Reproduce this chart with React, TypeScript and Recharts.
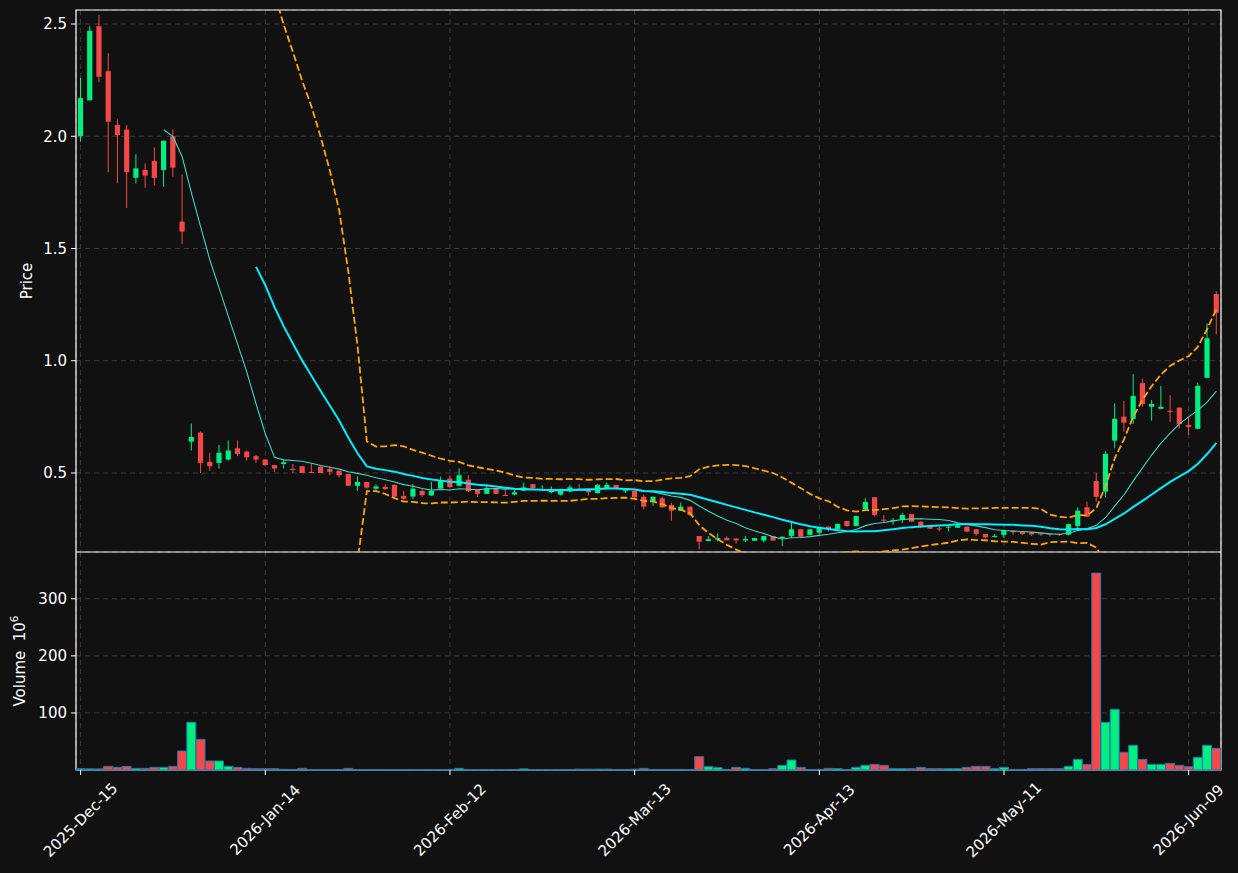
import React from "react";
import {
  ComposedChart,
  Bar,
  Line,
  XAxis,
  YAxis,
  CartesianGrid,
  ReferenceArea,
  Cell,
} from "recharts";

// tick labels every 20 sessions
const tickLabels = [
  "2025-Dec-15",
  "2026-Jan-14",
  "2026-Feb-12",
  "2026-Mar-13",
  "2026-Apr-13",
  "2026-May-11",
  "2026-Jun-09",
];

const opens = [
  2.0, 2.16, 2.49, 2.29, 2.05, 2.03, 1.815, 1.85, 1.89, 1.85,
  2.0, 1.62, 0.64, 0.68, 0.55, 0.545, 0.56, 0.61, 0.595, 0.575,
  0.56, 0.535, 0.54, 0.518, 0.53, 0.505, 0.528, 0.518, 0.51, 0.495,
  0.443, 0.46, 0.43, 0.438, 0.447, 0.398, 0.395, 0.42, 0.4, 0.43,
  0.475, 0.443, 0.47, 0.427, 0.407, 0.432, 0.402, 0.404, 0.421, 0.45,
  0.423, 0.414, 0.403, 0.417, 0.428, 0.425, 0.41, 0.432, 0.447, 0.42,
  0.42, 0.394, 0.372, 0.387, 0.357, 0.332, 0.35, 0.219, 0.197, 0.203,
  0.21, 0.208, 0.199, 0.198, 0.199, 0.219, 0.21, 0.22, 0.249, 0.224,
  0.234, 0.261, 0.25, 0.286, 0.264, 0.338, 0.392, 0.292, 0.287, 0.291,
  0.317, 0.283, 0.264, 0.253, 0.258, 0.256, 0.261, 0.249, 0.228, 0.215,
  0.224, 0.242, 0.237, 0.234, 0.23, 0.23, 0.228, 0.225, 0.264, 0.347,
  0.464, 0.417, 0.644, 0.751, 0.741, 0.9, 0.795, 0.786, 0.777, 0.791,
  0.714, 0.697, 0.924, 1.297,
];

const highs = [
  2.26, 2.49, 2.54, 2.37, 2.075, 2.05, 1.92, 1.88, 1.95, 1.98,
  2.03, 1.83, 0.72, 0.685, 0.59, 0.625, 0.645, 0.645, 0.6, 0.58,
  0.56, 0.535, 0.56, 0.54, 0.53, 0.54, 0.53, 0.53, 0.51, 0.495,
  0.485, 0.46, 0.45, 0.45, 0.45, 0.42, 0.45, 0.43, 0.46, 0.484,
  0.49, 0.52, 0.49, 0.427, 0.45, 0.435, 0.433, 0.428, 0.457, 0.452,
  0.446, 0.44, 0.43, 0.446, 0.45, 0.428, 0.45, 0.458, 0.447, 0.433,
  0.42, 0.404, 0.395, 0.394, 0.367, 0.368, 0.35, 0.219, 0.219, 0.23,
  0.218, 0.21, 0.22, 0.21, 0.22, 0.22, 0.218, 0.279, 0.25, 0.25,
  0.26, 0.262, 0.275, 0.286, 0.31, 0.387, 0.392, 0.313, 0.3, 0.32,
  0.318, 0.285, 0.265, 0.26, 0.268, 0.27, 0.261, 0.25, 0.228, 0.228,
  0.248, 0.246, 0.242, 0.236, 0.232, 0.23, 0.23, 0.274, 0.347, 0.372,
  0.501, 0.597, 0.81, 0.821, 0.94, 0.92, 0.825, 0.888, 0.847, 0.791,
  0.75, 0.903, 1.167, 1.31,
];

const lows = [
  1.976, 2.16, 2.24, 1.84, 1.79, 1.68, 1.79, 1.77, 1.78, 1.775,
  1.82, 1.52, 0.6, 0.5, 0.51, 0.52, 0.555, 0.575, 0.555, 0.545,
  0.53, 0.505, 0.52, 0.5, 0.5, 0.5, 0.5, 0.49, 0.48, 0.443,
  0.42, 0.43, 0.42, 0.425, 0.394, 0.383, 0.383, 0.392, 0.398, 0.43,
  0.435, 0.44, 0.415, 0.393, 0.405, 0.405, 0.398, 0.4, 0.42, 0.43,
  0.42, 0.41, 0.4, 0.415, 0.42, 0.4, 0.41, 0.43, 0.428, 0.411,
  0.39, 0.338, 0.353, 0.345, 0.288, 0.332, 0.31, 0.16, 0.195, 0.195,
  0.2, 0.185, 0.192, 0.198, 0.19, 0.198, 0.175, 0.21, 0.21, 0.222,
  0.225, 0.24, 0.248, 0.26, 0.262, 0.332, 0.306, 0.279, 0.27, 0.277,
  0.283, 0.255, 0.25, 0.24, 0.24, 0.255, 0.237, 0.22, 0.21, 0.213,
  0.21, 0.225, 0.225, 0.22, 0.22, 0.218, 0.22, 0.222, 0.255, 0.305,
  0.372, 0.392, 0.61, 0.684, 0.718, 0.795, 0.733, 0.786, 0.728, 0.7,
  0.669, 0.695, 0.924, 1.118,
];

const closes = [
  2.17, 2.47, 2.265, 2.065, 2.005, 1.84, 1.857, 1.825, 1.815, 1.98,
  1.86, 1.575, 0.66, 0.545, 0.53, 0.59, 0.6, 0.585, 0.57, 0.56,
  0.535, 0.52, 0.548, 0.515, 0.5, 0.5, 0.5, 0.505, 0.49, 0.443,
  0.46, 0.435, 0.44, 0.428, 0.395, 0.385, 0.43, 0.402, 0.42, 0.468,
  0.437, 0.49, 0.418, 0.407, 0.433, 0.407, 0.4, 0.414, 0.436, 0.432,
  0.428, 0.425, 0.425, 0.436, 0.425, 0.414, 0.447, 0.447, 0.432, 0.423,
  0.392, 0.35, 0.394, 0.347, 0.332, 0.35, 0.313, 0.194, 0.205, 0.21,
  0.2, 0.2, 0.205, 0.21, 0.219, 0.199, 0.216, 0.249, 0.216, 0.249,
  0.258, 0.25, 0.273, 0.264, 0.308, 0.371, 0.313, 0.29, 0.29, 0.313,
  0.283, 0.258, 0.252, 0.251, 0.261, 0.267, 0.239, 0.229, 0.213, 0.22,
  0.246, 0.236, 0.228, 0.226, 0.226, 0.226, 0.224, 0.272, 0.332, 0.305,
  0.394, 0.585, 0.741, 0.724, 0.843, 0.807, 0.807, 0.795, 0.772, 0.718,
  0.705, 0.888, 1.1, 1.214,
];

// volume in millions
const volumes = [
  2.3, 2.0, 2.0, 6.4, 4.7, 6.4, 2.9, 2.9, 4.7, 4.7,
  6.4, 33.3, 83.6, 53.8, 15.8, 15.8, 6.4, 4.7, 2.9, 2.3,
  2.3, 2.3, 1.2, 0.8, 2.9, 0.8, 0.6, 0.6, 0.6, 2.9,
  0.6, 0.5, 0.5, 0.5, 0.5, 0.5, 0.5, 0.5, 0.5, 0.5,
  0.5, 2.9, 0.6, 0.6, 0.6, 0.6, 0.6, 0.6, 2.0, 0.6,
  0.6, 0.6, 0.6, 0.6, 1.5, 1.5, 1.5, 1.5, 0.6, 0.6,
  1.5, 2.9, 1.0, 1.0, 1.0, 1.0, 1.0, 23.4, 5.8, 4.1,
  0.6, 4.7, 2.9, 0.6, 0.6, 2.3, 8.2, 17.5, 4.7, 0.6,
  0.6, 2.9, 2.3, 0.6, 4.7, 8.2, 9.9, 8.2, 2.3, 2.3,
  2.3, 4.7, 2.3, 2.3, 2.3, 2.3, 4.7, 6.4, 6.4, 2.3,
  4.7, 1.0, 1.0, 2.3, 2.3, 2.3, 2.3, 6.4, 18.7, 9.9,
  345, 83.6, 106.4, 31, 43.3, 18.7, 9.9, 9.9, 11.7, 8.2,
  5.8, 22.2, 43.3, 38,
];

const UP = "#00f080";
const DOWN = "#f44848";
const BG = "#111111";
const TEXT = "#ffffff";
const FRAME = "#ffffff";
const FONT = "DejaVu Sans, sans-serif";

const PRICE_DOMAIN = [0.148, 2.5625];
const VOL_DOMAIN = [0, 382];

const rollMean = (arr: number[], n: number) =>
  arr.map((_, i) => {
    if (i < n - 1) return null;
    let s = 0;
    for (let k = i - n + 1; k <= i; k++) s += arr[k];
    return s / n;
  });

const rollStd = (arr: number[], n: number) =>
  arr.map((_, i) => {
    if (i < n - 1) return null;
    let s = 0;
    for (let k = i - n + 1; k <= i; k++) s += arr[k];
    const m = s / n;
    let q = 0;
    for (let k = i - n + 1; k <= i; k++) q += (arr[k] - m) * (arr[k] - m);
    return Math.sqrt(q / (n - 1));
  });

const ma10 = rollMean(closes, 10);
const ma20 = rollMean(closes, 20);
const sd20 = rollStd(closes, 20);

const data = closes.map((c, i) => ({
  i,
  o: opens[i],
  h: highs[i],
  l: lows[i],
  c,
  v: volumes[i],
  ma10: ma10[i],
  ma20: ma20[i],
  bbUp: ma20[i] == null ? null : (ma20[i] as number) + 2 * (sd20[i] as number),
  bbLo: ma20[i] == null ? null : (ma20[i] as number) - 2 * (sd20[i] as number),
}));

const lastIdx = data.length - 1;

const Candle = (props: any) => {
  const { x, y, width, height, payload } = props;
  const { o, h, l, c } = payload;
  const top = Math.min(y, y + height);
  const span = Math.abs(height);
  const py = (v: number) => top + ((h - v) / (h - l)) * span;
  const cx = x + width / 2;
  const color = c >= o ? UP : DOWN;
  const bTop = py(Math.max(o, c));
  const bBot = py(Math.min(o, c));
  return (
    <g>
      <line x1={cx} x2={cx} y1={top} y2={top + span} stroke={color} strokeWidth={1} />
      <rect
        x={cx - 2.6}
        y={bTop}
        width={5.2}
        height={Math.max(bBot - bTop, 1)}
        fill={color}
      />
    </g>
  );
};

const DateTick = (props: any) => {
  const { x, y, payload } = props;
  const label = tickLabels[Math.round(payload.value / 20)];
  const cy = y + 43;
  return (
    <text
      x={x}
      y={cy}
      fill={TEXT}
      fontSize={15}
      fontFamily={FONT}
      textAnchor="middle"
      dominantBaseline="central"
      transform={`rotate(-45, ${x}, ${cy})`}
    >
      {label}
    </text>
  );
};

const App = () => {
  return (
    <div
      style={{
        position: "absolute",
        left: 0,
        top: 0,
        width: 1238,
        height: 873,
        background: BG,
        fontFamily: FONT,
      }}
    >
      <div style={{ position: "absolute", left: 0, top: 0 }}>
        <ComposedChart
          width={1238}
          height={552}
          data={data}
          margin={{ top: 10, right: 17, left: 0, bottom: 0 }}
          barCategoryGap={0}
        >
          <CartesianGrid stroke="#3a3a3a" strokeDasharray="5 4" />
          <XAxis dataKey="i" hide interval={19} />
          <YAxis
            width={76}
            domain={PRICE_DOMAIN}
            allowDataOverflow
            ticks={[0.5, 1.0, 1.5, 2.0, 2.5]}
            tickFormatter={(v: number) => v.toFixed(1)}
            tick={{ fill: TEXT, fontSize: 15, fontFamily: FONT }}
            tickLine={{ stroke: TEXT }}
            tickSize={5}
            tickMargin={4}
            axisLine={false}
            label={({ viewBox }: any) => (
              <text
                x={27}
                y={viewBox.y + viewBox.height / 2}
                fill={TEXT}
                fontSize={15}
                fontFamily={FONT}
                textAnchor="middle"
                dominantBaseline="central"
                transform={`rotate(-90, 27, ${viewBox.y + viewBox.height / 2})`}
              >
                Price
              </text>
            )}
          />
          <Bar
            dataKey={(d: any) => [d.l, d.h]}
            shape={<Candle />}
            isAnimationActive={false}
          />
          <Line
            dataKey="ma10"
            stroke="#3fd6c6"
            strokeWidth={1.1}
            dot={false}
            activeDot={false}
            isAnimationActive={false}
          />
          <Line
            dataKey="ma20"
            stroke="#00eeff"
            strokeWidth={2}
            dot={false}
            activeDot={false}
            isAnimationActive={false}
          />
          <Line
            dataKey="bbUp"
            stroke="#ffa500"
            strokeWidth={1.8}
            strokeDasharray="7 3"
            dot={false}
            activeDot={false}
            isAnimationActive={false}
          />
          <Line
            dataKey="bbLo"
            stroke="#ffa500"
            strokeWidth={1.8}
            strokeDasharray="7 3"
            dot={false}
            activeDot={false}
            isAnimationActive={false}
          />
          <ReferenceArea
            x1={0}
            x2={lastIdx}
            y1={PRICE_DOMAIN[0]}
            y2={PRICE_DOMAIN[1]}
            ifOverflow="visible"
            fill="none"
            fillOpacity={0}
            stroke={FRAME}
            strokeWidth={1.2}
          />
        </ComposedChart>
      </div>
      <div style={{ position: "absolute", left: 0, top: 552 }}>
        <ComposedChart
          width={1238}
          height={321}
          data={data}
          margin={{ top: 0, right: 17, left: 0, bottom: 0 }}
          barCategoryGap={0}
        >
          <CartesianGrid stroke="#3a3a3a" strokeDasharray="5 4" />
          <XAxis
            dataKey="i"
            interval={19}
            height={103}
            tick={<DateTick />}
            tickLine={{ stroke: TEXT }}
            tickSize={5}
            axisLine={false}
          />
          <YAxis
            width={76}
            domain={VOL_DOMAIN}
            ticks={[100, 200, 300]}
            tick={{ fill: TEXT, fontSize: 15, fontFamily: FONT }}
            tickLine={{ stroke: TEXT }}
            tickSize={5}
            tickMargin={4}
            axisLine={false}
            label={({ viewBox }: any) => {
              const cy = viewBox.y + viewBox.height / 2;
              return (
                <text
                  x={20}
                  y={cy}
                  fill={TEXT}
                  fontSize={15}
                  fontFamily={FONT}
                  textAnchor="middle"
                  dominantBaseline="central"
                  transform={`rotate(-90, 20, ${cy})`}
                >
                  {"Volume\u00a0\u00a010"}
                  <tspan dy={-6} fontSize={10.5}>
                    6
                  </tspan>
                </text>
              );
            }}
          />
          <Bar dataKey="v" stroke="#1f77b4" strokeWidth={1} isAnimationActive={false}>
            {data.map((d) => (
              <Cell key={d.i} fill={d.c >= d.o ? UP : DOWN} />
            ))}
          </Bar>
          <ReferenceArea
            x1={0}
            x2={lastIdx}
            y1={VOL_DOMAIN[0]}
            y2={VOL_DOMAIN[1]}
            ifOverflow="visible"
            fill="none"
            fillOpacity={0}
            stroke={FRAME}
            strokeWidth={1.2}
          />
        </ComposedChart>
      </div>
    </div>
  );
};

export default App;
